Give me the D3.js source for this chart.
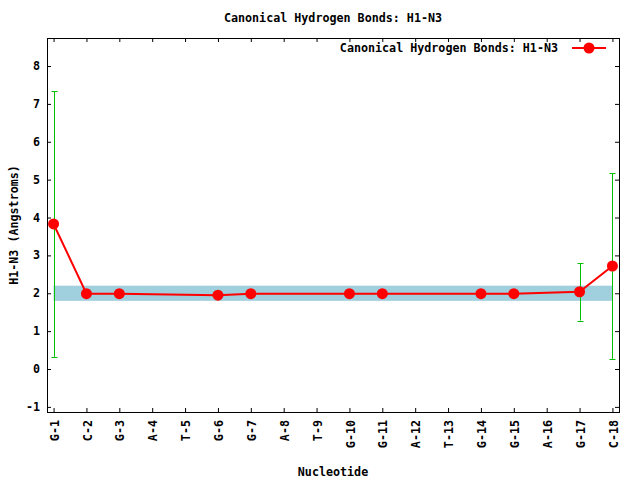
<!DOCTYPE html>
<html><head><meta charset="utf-8">
<script src="https://cdn.jsdelivr.net/npm/d3@7"></script>
<style>body{margin:0;background:#fff}svg{display:block}text{font-family:"DejaVu Sans Mono",monospace;font-weight:bold;font-size:11.7px;fill:#000}</style>
</head><body>
<script>
const categories = ["G-1","C-2","G-3","A-4","T-5","G-6","G-7","A-8","T-9","G-10","G-11","A-12","T-13","G-14","G-15","A-16","G-17","C-18"];
const pointIndex = [1,2,3,6,7,10,11,14,15,17,18];
const values = [3.83,1.99,1.99,1.95,1.99,1.99,1.99,1.99,1.99,2.04,2.72];
const errors = [3.51,0.02,0.02,0.03,0.02,0.02,0.02,0.02,0.02,0.76,2.45];
const yTicks = [-1,0,1,2,3,4,5,6,7,8];
const bandRange = [1.8, 2.2];
const title = "Canonical Hydrogen Bonds: H1-N3";

const W=640,H=480, L=47, R=619, T=38, B=412;
const svg = d3.select("body").append("svg").attr("width",W).attr("height",H);
const x = d3.scaleLinear().domain([0.8,18.2]).range([L,R]);
const y = d3.scaleLinear().domain([-1.135,8.74]).range([B,T]);

// band
svg.append("rect").attr("x",x(1)).attr("width",x(18)-x(1))
  .attr("y",y(bandRange[1])).attr("height",y(bandRange[0])-y(bandRange[1]))
  .attr("fill","#a0cfdd");

const data = pointIndex.map((p,i)=>({x:p,v:values[i],e:errors[i]}));

// error bars
const eb = svg.append("g").attr("stroke","#00c000").attr("stroke-width",1).attr("fill","none");
data.forEach(d=>{
  const cx=Math.round(x(d.x))+0.5;
  eb.append("line").attr("x1",cx).attr("x2",cx).attr("y1",y(d.v-d.e)).attr("y2",y(d.v+d.e));
  [d.v-d.e,d.v+d.e].forEach(t=>{
    eb.append("line").attr("x1",cx-3).attr("x2",cx+3).attr("y1",Math.round(y(t))+0.5).attr("y2",Math.round(y(t))+0.5);
  });
});

// line
svg.append("path").datum(data).attr("fill","none").attr("stroke","#ff0000").attr("stroke-width",2)
  .attr("d",d3.line().x(d=>x(d.x)).y(d=>y(d.v)));
svg.append("g").selectAll("circle").data(data).join("circle")
  .attr("cx",d=>x(d.x)).attr("cy",d=>y(d.v)).attr("r",5.5).attr("fill","#ff0000");

// axes
const tk = 4;
const xb = d3.axisBottom(x).tickValues(d3.range(1,19)).tickSize(-tk).tickFormat("");
const xt = d3.axisTop(x).tickValues(d3.range(1,19)).tickSize(-tk).tickFormat("");
const yl = d3.axisLeft(y).tickValues(yTicks).tickSize(-tk).tickFormat("");
const yr = d3.axisRight(y).tickValues(yTicks).tickSize(-tk).tickFormat("");
[[xb,`translate(0,${B})`],[xt,`translate(0,${T})`],[yl,`translate(${L},0)`],[yr,`translate(${R},0)`]].forEach(([a,t])=>{
  const g=svg.append("g").attr("transform",t).call(a);
  g.select(".domain").remove();
  g.selectAll("line").attr("stroke","#000");
});
svg.append("rect").attr("x",L+0.5).attr("y",T+0.5).attr("width",R-L).attr("height",B-T)
  .attr("fill","none").attr("stroke","#000").attr("stroke-width",1);

// tick labels
svg.append("g").selectAll("text").data(yTicks).join("text")
  .attr("x",40).attr("y",d=>y(d)).attr("dy","0.35em").attr("text-anchor","end").text(d=>d);
svg.append("g").selectAll("text").data(categories).join("text")
  .attr("transform",(d,i)=>`translate(${x(i+1)+1},420) rotate(-90)`)
  .attr("text-anchor","end").attr("dy","0.35em").text(d=>d);

// titles
svg.append("text").attr("x",(L+R)/2).attr("y",22).attr("text-anchor","middle").text(title);
svg.append("text").attr("x",(L+R)/2).attr("y",476).attr("text-anchor","middle").text("Nucleotide");
svg.append("text").attr("transform",`translate(18,${(T+B)/2}) rotate(-90)`).attr("text-anchor","middle").text("H1-N3 (Angstroms)");

// legend
svg.append("text").attr("x",558).attr("y",52).attr("text-anchor","end").text(title);
svg.append("line").attr("x1",572).attr("x2",606).attr("y1",48).attr("y2",48).attr("stroke","#ff0000").attr("stroke-width",2);
svg.append("circle").attr("cx",589).attr("cy",48).attr("r",5.5).attr("fill","#ff0000");
</script>
</body></html>
